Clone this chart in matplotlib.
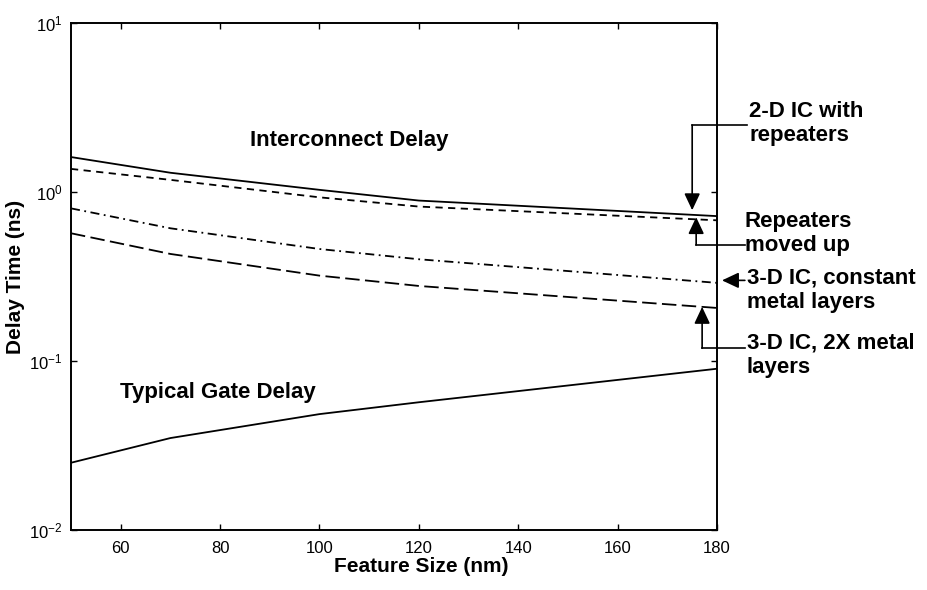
import numpy as np
import matplotlib.pyplot as plt
from matplotlib.ticker import FixedLocator, NullLocator

plt.rcParams['font.family'] = ['Liberation Sans', 'DejaVu Sans']
plt.rcParams['mathtext.default'] = 'regular'

# feature size (nm)
feature_nm = [50, 70, 100, 120, 180]

# delay times (ns)
delay_2d_repeaters = [1.61, 1.30, 1.03, 0.89, 0.72]
delay_repeaters_up = [1.37, 1.18, 0.93, 0.82, 0.68]
delay_3d_const = [0.80, 0.61, 0.46, 0.40, 0.29]
delay_3d_2x = [0.57, 0.43, 0.32, 0.278, 0.206]
delay_gate = [0.025, 0.035, 0.0485, 0.057, 0.090]

x_ticks = [60, 80, 100, 120, 140, 160, 180]

fig = plt.figure(figsize=(9.27, 5.90), dpi=100)
ax = fig.add_axes([0.0766, 0.1017, 0.6969, 0.8593])

lw = 1.3
ax.plot(feature_nm, delay_2d_repeaters, color='black', lw=lw, ls='-')
ax.plot(feature_nm, delay_repeaters_up, color='black', lw=lw, ls=(0, (4, 3)))
ax.plot(feature_nm, delay_3d_const, color='black', lw=lw, ls=(0, (5, 2.5, 1, 2.5)))
ax.plot(feature_nm, delay_3d_2x, color='black', lw=lw, ls=(0, (8, 3)))
ax.plot(feature_nm, delay_gate, color='black', lw=lw, ls='-')

ax.set_yscale('log')
ax.set_xlim(50, 180)
ax.set_ylim(1e-2, 1e1)
ax.xaxis.set_major_locator(FixedLocator(x_ticks))
ax.yaxis.set_minor_locator(NullLocator())
ax.tick_params(direction='in', top=True, right=True, length=4.5, width=1,
               labelsize=12)
ax.tick_params(axis='x', pad=8)
ax.tick_params(axis='y', pad=6)
for sp in ax.spines.values():
    sp.set_linewidth(1.4)

ax.set_xlabel('Feature Size (nm)', fontsize=15, fontweight='bold', labelpad=1, x=0.542)
ax.set_ylabel('Delay Time (ns)', fontsize=15, fontweight='bold', labelpad=3)

# labels inside the plot
ax.text(106, 2.03, 'Interconnect Delay', fontsize=16, fontweight='bold',
        ha='center', va='center')
ax.text(79.6, 0.0648, 'Typical Gate Delay', fontsize=16, fontweight='bold',
        ha='center', va='center')

# annotations at the right side
txt = dict(fontsize=16, fontweight='bold', ha='left', va='center',
           linespacing=1.2, clip_on=False)
ax.text(186.5, 2.54, '2-D IC with\nrepeaters', **txt)
ax.text(185.6, 0.568, 'Repeaters\nmoved up', **txt)
ax.text(186.0, 0.261, '3-D IC, constant\nmetal layers', **txt)
ax.text(186.0, 0.108, '3-D IC, 2X metal\nlayers', **txt)

head = dict(arrowstyle='-|>,head_length=0.85,head_width=0.4', color='black',
            lw=1.2, shrinkA=0, shrinkB=0, mutation_scale=12)
seg = dict(color='black', lw=1.2, clip_on=False)

# 2-D IC with repeaters: from text, left, then down
ax.plot([186.0, 175.0], [2.49, 2.49], **seg)
ax.annotate('', xy=(175.0, 0.78), xytext=(175.0, 2.49), arrowprops=head,
            annotation_clip=False)

# repeaters moved up: from text, left, then up
ax.plot([185.6, 175.8], [0.486, 0.486], **seg)
ax.annotate('', xy=(175.8, 0.71), xytext=(175.8, 0.486), arrowprops=head,
            annotation_clip=False)

# 3-D IC, constant metal layers: short arrow pointing left
ax.annotate('', xy=(181.0, 0.30), xytext=(185.6, 0.30), arrowprops=head,
            annotation_clip=False)

# 3-D IC, 2X metal layers: from text, left, then up
ax.plot([185.6, 177.0], [0.119, 0.119], **seg)
ax.annotate('', xy=(177.0, 0.209), xytext=(177.0, 0.119), arrowprops=head,
            annotation_clip=False)

fig.savefig('out.png', dpi=100)
